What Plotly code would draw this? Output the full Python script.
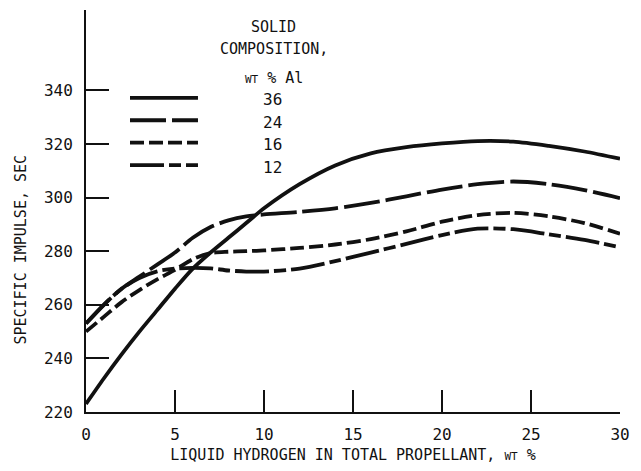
import plotly.graph_objects as go

# liquid hydrogen in total propellant, wt %
h2_pct = [0, 1, 2, 3, 4, 5, 6, 7, 8, 9, 10, 12, 14, 16, 18, 20, 22, 24, 26, 28, 30]

# specific impulse, sec, per solid composition (wt % Al)
isp_36 = [223, 232.5, 241.5, 250, 258, 266, 273.5, 279.5, 285, 290.5, 296,
          305, 312, 316.5, 318.8, 320.2, 321.1, 320.9, 319.3, 317.2, 314.5]
isp_24 = [253, 260, 266, 270.5, 275, 279.5, 285, 289, 291.5, 293, 293.7,
          294.7, 296, 298, 300.5, 303, 305, 306, 305, 302.8, 299.8]
isp_16 = [250, 255.5, 261, 265.5, 269.5, 273, 277, 279.3, 279.8, 280, 280.3,
          281.2, 282.5, 284.5, 287.4, 291, 293.5, 294.3, 293, 290.5, 286.5]
isp_12 = [253, 260, 266, 270, 272.5, 273.5, 273.8, 273.6, 272.8, 272.4, 272.4,
          273.5, 276.3, 279.5, 282.7, 286, 288.4, 288.2, 286.3, 284.2, 281.5]

al_labels = ["36", "24", "16", "12"]
series = [isp_36, isp_24, isp_16, isp_12]
dashes = ["solid", "36px,6px", "14px,5px", "34px,5px,12px,5px"]

x_ticks = [0, 5, 10, 15, 20, 25, 30]
y_ticks = [220, 240, 260, 280, 300, 320, 340]

FONT = "DejaVu Sans Mono"
INK = "#111111"

fig = go.Figure()

for lab, ys, dash in zip(al_labels, series, dashes):
    fig.add_trace(go.Scatter(
        x=h2_pct, y=ys,
        mode="lines",
        line=dict(color=INK, width=3.8, dash=dash, shape="spline", smoothing=0.8),
        name=lab,
        showlegend=False,
        hoverinfo="skip"
    ))

# hand-drawn style key
key_y = [0.7816, 0.7257, 0.6699, 0.6141]
for lab, dash, yk in zip(al_labels, dashes, key_y):
    fig.add_shape(type="line", xref="paper", yref="paper",
                  x0=0.0824, x1=0.2097, y0=yk, y1=yk,
                  line=dict(color=INK, width=3.8, dash=dash))
    fig.add_annotation(x=0.350, y=yk - 0.005, xref="paper", yref="paper",
                       xanchor="center", yanchor="middle",
                       text=lab, showarrow=False,
                       font=dict(family=FONT, size=16, color=INK))

for txt, yk in [("SOLID", 0.958), ("COMPOSITION,", 0.903),
                ("<span style='font-size:11px'>WT</span> % Al", 0.832)]:
    fig.add_annotation(x=0.352, y=yk, xref="paper", yref="paper",
                       xanchor="center", yanchor="middle",
                       text=txt, showarrow=False,
                       font=dict(family=FONT, size=15, color=INK))

fig.add_annotation(x=-0.121, y=0.405, xref="paper", yref="paper",
                   xanchor="center", yanchor="middle",
                   text="SPECIFIC IMPULSE, SEC", textangle=-90,
                   showarrow=False,
                   font=dict(family=FONT, size=15, color=INK))

fig.update_layout(
    width=641, height=471,
    margin=dict(l=86, r=21, t=10, b=49),
    plot_bgcolor="white",
    paper_bgcolor="white",
    showlegend=False,
    xaxis=dict(
        range=[0, 30],
        tickvals=x_ticks,
        ticks="inside", ticklen=22, tickwidth=2, tickcolor=INK,
        showline=True, linecolor=INK, linewidth=2,
        showgrid=False, zeroline=False,
        tickfont=dict(family=FONT, size=16, color=INK),
        ticklabelstandoff=7,
        title=dict(text="LIQUID HYDROGEN IN TOTAL PROPELLANT, <span style='font-size:11px'>WT</span> %",
                   font=dict(family=FONT, size=15, color=INK), standoff=6),
    ),
    yaxis=dict(
        range=[220, 370],
        tickvals=y_ticks,
        ticks="inside", ticklen=23, tickwidth=2, tickcolor=INK,
        showline=True, linecolor=INK, linewidth=2,
        showgrid=False, zeroline=False,
        tickfont=dict(family=FONT, size=16, color=INK),
        ticklabelstandoff=8,
    ),
)

fig.write_html("out.html", config={"displayModeBar": False},
               post_script="document.body.style.margin='0';")
